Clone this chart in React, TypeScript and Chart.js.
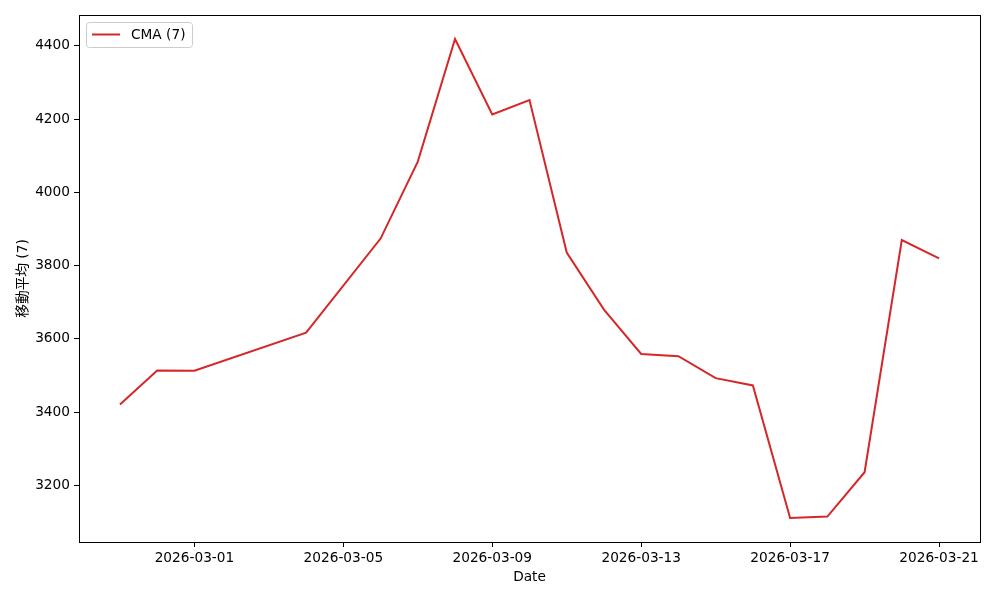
import React, { useEffect, useRef } from "react";
import { Chart, registerables } from "chart.js";

Chart.register(...registerables);

const dates = [
  "2026-02-27", "2026-02-28", "2026-03-01", "2026-03-04", "2026-03-06",
  "2026-03-07", "2026-03-08", "2026-03-09", "2026-03-10", "2026-03-11",
  "2026-03-12", "2026-03-13", "2026-03-14", "2026-03-15", "2026-03-16",
  "2026-03-17", "2026-03-18", "2026-03-19", "2026-03-20", "2026-03-21",
];
const cmaValues = [
  3421, 3514, 3513, 3617, 3874,
  4084, 4419, 4213, 4252, 3836,
  3680, 3559, 3553, 3493, 3473,
  3111, 3115, 3236, 3870, 3820,
];
const xTickDates = ["2026-03-01", "2026-03-05", "2026-03-09", "2026-03-13", "2026-03-17", "2026-03-21"];
const yTickValues = [3200, 3400, 3600, 3800, 4000, 4200, 4400];
const seriesLabel = "CMA (7)";
const yAxisLabel = "移動平均 (7)";
const xAxisLabel = "Date";

const DAY = 86400000;
const toDay = (s: string) => {
  const [y, m, d] = s.split("-").map(Number);
  return Date.UTC(y, m - 1, d) / DAY;
};
const fmtDay = (v: number) => {
  const dt = new Date(Math.round(v) * DAY);
  const mm = String(dt.getUTCMonth() + 1).padStart(2, "0");
  const dd = String(dt.getUTCDate()).padStart(2, "0");
  return `${dt.getUTCFullYear()}-${mm}-${dd}`;
};

const FONT = "'DejaVu Sans', 'Noto Sans CJK JP', sans-serif";
const FS = 13.7;

export default function App() {
  const ref = useRef<HTMLCanvasElement | null>(null);

  useEffect(() => {
    if (!ref.current) return;
    const xs = dates.map(toDay);
    const xMin = Math.min(...xs), xMax = Math.max(...xs);
    const xPad = (xMax - xMin) * 0.05;
    const yMin = Math.min(...cmaValues), yMax = Math.max(...cmaValues);
    const yPad = (yMax - yMin) * 0.05;
    const color = "#d62728";

    const frame = {
      id: "frame",
      afterDatasetsDraw(chart: any) {
        const { ctx, chartArea: a } = chart;
        ctx.save();
        ctx.strokeStyle = "#000";
        ctx.lineWidth = 1;
        ctx.strokeRect(Math.round(a.left) + 0.5, Math.round(a.top) + 0.5, Math.round(a.right - a.left), Math.round(a.bottom - a.top));
        // legend
        const lx = a.left + 7, ly = a.top + 7, lw = 106, lh = 25;
        ctx.fillStyle = "rgba(255,255,255,0.8)";
        ctx.strokeStyle = "#cccccc";
        ctx.beginPath();
        (ctx as any).roundRect(lx + 0.5, ly + 0.5, lw, lh, 3);
        ctx.fill();
        ctx.stroke();
        ctx.strokeStyle = color;
        ctx.lineWidth = 2;
        ctx.beginPath();
        ctx.moveTo(lx + 6, ly + 12.5);
        ctx.lineTo(lx + 34, ly + 12.5);
        ctx.stroke();
        ctx.fillStyle = "#000";
        ctx.font = `${FS}px ${FONT}`;
        ctx.textBaseline = "middle";
        ctx.textAlign = "left";
        ctx.fillText(chart.data.datasets[0].label, lx + 45, ly + 13);
        ctx.restore();
      },
    };

    const chart = new Chart(ref.current, {
      type: "line",
      data: {
        datasets: [
          {
            label: seriesLabel,
            data: xs.map((x, i) => ({ x, y: cmaValues[i] })),
            borderColor: color,
            borderWidth: 2,
            pointRadius: 0,
            tension: 0,
            fill: false,
          },
        ],
      },
      options: {
        animation: false,
        responsive: false,
        devicePixelRatio: 1,
        layout: { padding: { left: 0, right: 20, top: 15, bottom: 0 } },
        plugins: { legend: { display: false }, tooltip: { enabled: false } },
        scales: {
          x: {
            type: "linear",
            min: xMin - xPad,
            max: xMax + xPad,
            afterBuildTicks: (s: any) => {
              s.ticks = xTickDates.map((d) => ({ value: toDay(d) }));
            },
            afterFit: (s: any) => { s.height = 58; },
            ticks: {
              callback: (v: any) => fmtDay(Number(v)),
              color: "#000",
              font: { family: FONT, size: FS },
              padding: 3,
              maxRotation: 0,
              autoSkip: false,
            },
            grid: { drawOnChartArea: false, drawTicks: true, tickLength: 5, color: "#000" },
            border: { display: false },
            title: { display: true, text: xAxisLabel, color: "#000", font: { family: FONT, size: FS }, padding: { top: 2, bottom: 14 } },
          },
          y: {
            type: "linear",
            min: yMin - yPad,
            max: yMax + yPad,
            afterBuildTicks: (s: any) => {
              s.ticks = yTickValues.map((v) => ({ value: v }));
            },
            afterFit: (s: any) => { s.width = 79; },
            ticks: {
              color: "#000",
              font: { family: FONT, size: FS },
              padding: 4,
              callback: (v: any) => String(v),
            },
            grid: { drawOnChartArea: false, drawTicks: true, tickLength: 5, color: "#000" },
            border: { display: false },
            title: { display: true, text: yAxisLabel, color: "#000", font: { family: FONT, size: FS }, padding: { top: 15, bottom: 0 } },
          },
        },
      },
      plugins: [frame],
    } as any);
    return () => chart.destroy();
  }, []);

  return (
    <div style={{ position: "fixed", left: 0, top: 0, width: 1000, height: 600, background: "#fff" }}>
      <canvas ref={ref} width={1000} height={600} style={{ width: 1000, height: 600 }} />
    </div>
  );
}
